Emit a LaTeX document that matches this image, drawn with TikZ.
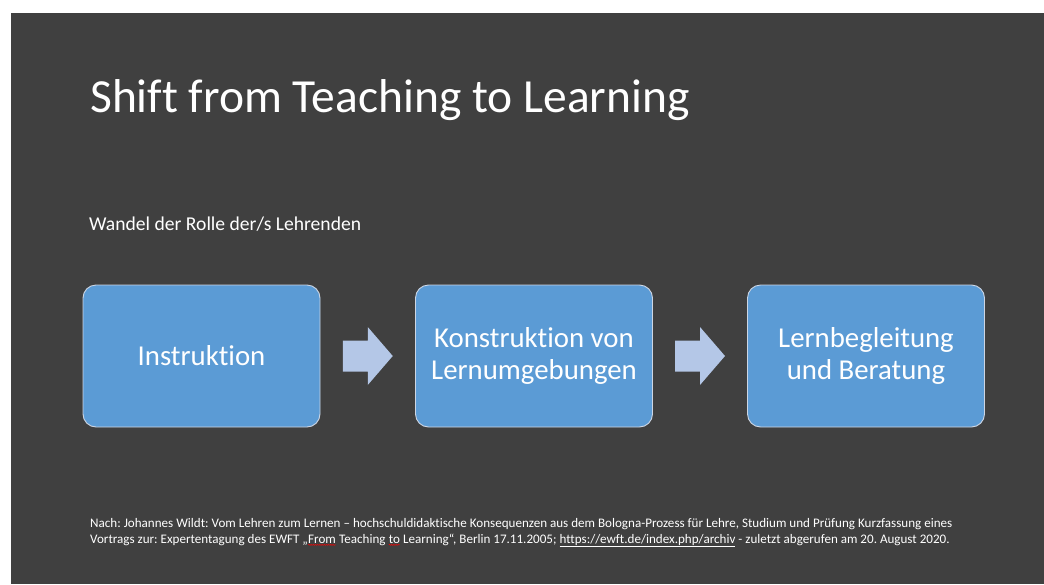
\documentclass[tikz,border=0pt]{standalone}
\usepackage{fontspec}
\setmainfont{Carlito}[Ligatures={NoCommon}]
\frenchspacing
\usetikzlibrary{calc,decorations.pathmorphing}
\definecolor{slidebg}{RGB}{64,64,64}
\definecolor{boxblue}{RGB}{91,155,213}
\definecolor{arrowblue}{RGB}{180,199,231}
\definecolor{boxline}{RGB}{205,214,228}
\newcommand\spellmark[1]{\tikz[baseline=(sw.base)]{\node[inner sep=0pt,outer sep=0pt,text=white](sw){#1};\draw[red,line width=0.5pt,decorate,decoration={snake,amplitude=0.5pt,segment length=2.2pt}]([yshift=-1.8pt]sw.south west)--([yshift=-1.8pt]sw.south east);}}
\tikzset{
  stepbox/.style={rectangle,rounded corners=13pt,minimum width=237pt,minimum height=142pt,
    fill=boxblue,draw=boxline,line width=0.9pt,text=white,align=center,
    font=\fontsize{28.8}{32}\selectfont},
  plaintext/.style={anchor=base west,inner sep=0pt,text=white},
  flowarrow/.style={fill=arrowblue}
}
\begin{document}
\begin{tikzpicture}[x=1pt,y=-1pt]
\useasboundingbox (0,0) rectangle (1044,584);
\fill[white] (0,0) rectangle (1044,584);
\fill[slidebg] (11,13) rectangle (1044,584);
\node[plaintext,font=\fontsize{47.5}{56}\selectfont] (title) at (90,112) {Shift from Teaching to Learning};
\node[plaintext,font=\fontsize{19.6}{24}\selectfont] (sub) at (89,230) {Wandel der Rolle der/s Lehrenden};
\node[stepbox] (b1) at (201.5,356) {Instruktion};
\node[stepbox] (b2) at (534,356) {Konstruktion von\\Lernumgebungen};
\node[stepbox] (b3) at (866,356) {Lernbegleitung\\und Beratung};
\coordinate (a1) at ($(b1.east)!0.5!(b2.west)$);
\coordinate (a2) at ($(b2.east)!0.5!(b3.west)$);
\foreach \c in {a1,a2}{
  \fill[flowarrow] ($(\c)+(-25,-15.5)$) -- ($(\c)+(0,-15.5)$) -- ($(\c)+(0,-29)$) -- ($(\c)+(25,0)$)
    -- ($(\c)+(0,29)$) -- ($(\c)+(0,15.5)$) -- ($(\c)+(-25,15.5)$) -- cycle;
}
\node[plaintext,font=\fontsize{13.08}{16}\selectfont] (foot1) at (90,527) {Nach: Johannes Wildt: Vom Lehren zum Lernen – hochschuldidaktische Konsequenzen aus dem Bologna-Prozess für Lehre, Studium und Prüfung Kurzfassung eines};
\node[plaintext,font=\fontsize{13.08}{16}\selectfont] (foot2) at (90,543) {Vortrags zur: Expertentagung des EWFT „\spellmark{From} Teaching \spellmark{to} Learning“, Berlin 17.11.2005; \underline{https://ewft.de/index.php/archiv} - zuletzt abgerufen am 20. August 2020.};
\end{tikzpicture}
\end{document}
